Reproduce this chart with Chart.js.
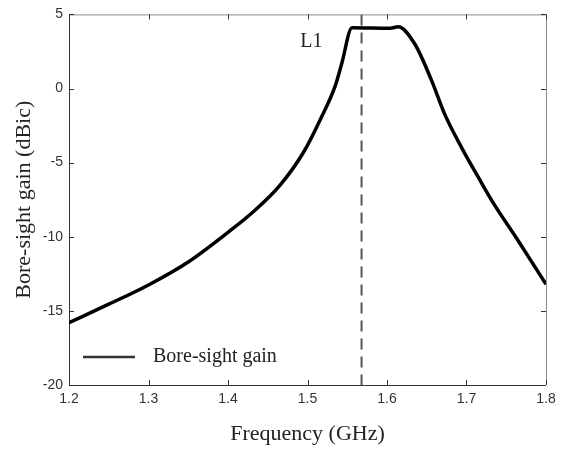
<!DOCTYPE html>
<html>
<head>
<meta charset="utf-8">
<script src="https://cdn.jsdelivr.net/npm/chart.js@4/dist/chart.umd.min.js"></script>
<style>
  body { margin: 0; background: #fff; }
  canvas { display: block; }
</style>
</head>
<body>
<canvas id="gainChart" width="565" height="450"></canvas>
<script>
// Bore-sight gain vs frequency
const freqGHz = [1.2, 1.25, 1.3, 1.35, 1.4, 1.43, 1.465, 1.495, 1.516, 1.535, 1.543, 1.556, 1.604, 1.614, 1.635, 1.656, 1.673, 1.694, 1.715, 1.734, 1.763, 1.8];
const gainDBic = [-15.8, -14.55, -13.25, -11.7, -9.7, -8.4, -6.55, -4.3, -2.1, 0.2, 1.67, 4.1, 4.07, 4.17, 3.0, 0.55, -1.78, -4.0, -6.0, -7.75, -10.1, -13.2];

// L1 marker
const markerFreq = [1.568, 1.568];
const markerGain = [5, -20];

const xTicks = [1.2, 1.3, 1.4, 1.5, 1.6, 1.7, 1.8];
const yTicks = [5, 0, -5, -10, -15, -20];

const serif = "'Liberation Serif', 'Times New Roman', serif";
const sans = "'Liberation Sans', Arial, sans-serif";

// box, inward ticks, legend and L1 text
const framePlugin = {
    id: 'frame',
    beforeDatasetsDraw(chart) {
        const ctx = chart.ctx;
        const a = chart.chartArea;
        const xs = chart.scales.x, ys = chart.scales.y;
        ctx.save();
        ctx.lineWidth = 1;
        // top and right edges are lighter
        ctx.strokeStyle = '#8a8a8a';
        ctx.beginPath();
        ctx.moveTo(a.left, a.top + 0.5);
        ctx.lineTo(a.right + 0.5, a.top + 0.5);
        ctx.lineTo(a.right + 0.5, a.bottom);
        ctx.stroke();
        ctx.strokeStyle = '#333';
        ctx.beginPath();
        ctx.moveTo(a.left + 0.5, a.top);
        ctx.lineTo(a.left + 0.5, a.bottom + 0.5);
        ctx.lineTo(a.right, a.bottom + 0.5);
        ctx.stroke();

        ctx.beginPath();
        xTicks.forEach(v => {
            const px = Math.round(xs.getPixelForValue(v)) + 0.5;
            ctx.moveTo(px, a.bottom);
            ctx.lineTo(px, a.bottom - 5);
            ctx.moveTo(px, a.top);
            ctx.lineTo(px, a.top + 5);
        });
        yTicks.forEach(v => {
            const py = Math.round(ys.getPixelForValue(v)) + 0.5;
            ctx.moveTo(a.left, py);
            ctx.lineTo(a.left + 5, py);
            ctx.moveTo(a.right, py);
            ctx.lineTo(a.right - 5, py);
        });
        ctx.stroke();
        ctx.restore();
    },
    afterDatasetsDraw(chart) {
        const ctx = chart.ctx;
        const a = chart.chartArea;
        const main = chart.data.datasets[0];
        const marker = chart.data.datasets[1];
        ctx.save();
        // legend
        const ly = a.bottom - 28;
        ctx.strokeStyle = '#333';
        ctx.lineWidth = 2.5;
        ctx.beginPath();
        ctx.moveTo(a.left + 14, ly);
        ctx.lineTo(a.left + 66, ly);
        ctx.stroke();
        ctx.fillStyle = '#222';
        ctx.font = '20px ' + serif;
        ctx.textBaseline = 'middle';
        ctx.textAlign = 'left';
        ctx.fillText(main.label, a.left + 84, ly);
        // L1 text
        const mx = chart.scales.x.getPixelForValue(markerFreq[0]);
        ctx.textAlign = 'right';
        ctx.fillText(marker.label, mx - 39, a.top + 27);
        ctx.restore();
    }
};

new Chart(document.getElementById('gainChart'), {
    type: 'line',
    data: {
        datasets: [{
            label: 'Bore-sight gain',
            data: freqGHz.map((f, i) => ({ x: f, y: gainDBic[i] })),
            borderColor: '#000',
            borderWidth: 3.5,
            pointRadius: 0,
            cubicInterpolationMode: 'monotone',
            fill: false
        }, {
            label: 'L1',
            data: markerFreq.map((f, i) => ({ x: f, y: markerGain[i] })),
            borderColor: '#555',
            borderWidth: 2,
            borderDash: [11, 7],
            pointRadius: 0,
            tension: 0,
            fill: false
        }]
    },
    plugins: [framePlugin],
    options: {
        responsive: false,
        animation: false,
        layout: { padding: { top: 10, right: 19, left: 0, bottom: 0 } },
        plugins: {
            legend: { display: false },
            tooltip: { enabled: false }
        },
        scales: {
            x: {
                type: 'linear',
                min: 1.2,
                max: 1.8,
                afterBuildTicks: s => { s.ticks = xTicks.map(v => ({ value: v })); },
                ticks: {
                    callback: v => v.toFixed(1),
                    font: { family: sans, size: 14 },
                    color: '#333',
                    padding: 6,
                    maxRotation: 0
                },
                grid: { display: false, drawTicks: false },
                border: { display: false },
                title: {
                    display: true,
                    text: 'Frequency (GHz)',
                    font: { family: serif, size: 22 },
                    color: '#222',
                    padding: { top: 0, bottom: 3 }
                },
                afterFit: s => { s.height = 65; }
            },
            y: {
                min: -20,
                max: 5,
                afterBuildTicks: s => { s.ticks = yTicks.map(v => ({ value: v })); },
                ticks: {
                    font: { family: sans, size: 14 },
                    color: '#333',
                    padding: 6
                },
                grid: { display: false, drawTicks: false },
                border: { display: false },
                title: {
                    display: true,
                    text: 'Bore-sight gain (dBic)',
                    font: { family: serif, size: 22 },
                    color: '#222',
                    padding: { top: 11, bottom: 0 }
                },
                afterFit: s => { s.width = 69; }
            }
        }
    }
});
</script>
</body>
</html>
